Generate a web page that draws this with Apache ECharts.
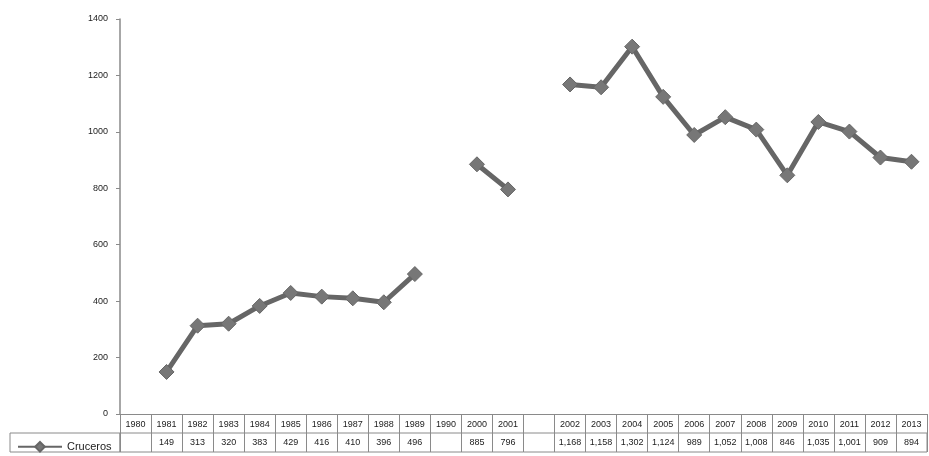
<!DOCTYPE html>
<html>
<head>
<meta charset="utf-8">
<script src="https://cdn.jsdelivr.net/npm/echarts@6/dist/echarts.min.js"></script>
<style>
  html, body { margin: 0; padding: 0; background: #fff; }
  #chart { width: 929px; height: 456px; }
</style>
</head>
<body>
<div id="chart"></div>
<script>
// Years shown along the axis (one empty column separates 2001 and 2002)
var years = ['1980', '1981', '1982', '1983', '1984', '1985', '1986', '1987', '1988', '1989', '1990',
             '2000', '2001', '', '2002', '2003', '2004', '2005', '2006', '2007', '2008', '2009',
             '2010', '2011', '2012', '2013'];
// Number of cruise calls per year (null = no data)
var cruceros = [null, 149, 313, 320, 383, 429, 416, 410, 396, 496, null,
                885, 796, null, 1168, 1158, 1302, 1124, 989, 1052, 1008, 846,
                1035, 1001, 909, 894];
var seriesName = 'Cruceros';
var yTicks = { min: 0, max: 1400, step: 200 };

var font = '"Liberation Sans Narrow", "Liberation Sans", Arial, sans-serif';
var gridLine = '#8a8a8a';

function fmt(v) {
  if (v === null || v === undefined) return '';
  return String(v).replace(/\B(?=(\d{3})+(?!\d))/g, ',');
}

var chart = echarts.init(document.getElementById('chart'));
chart.setOption({
  animation: false,
  backgroundColor: '#fff',
  legend: {
    data: [seriesName],
    left: 12,
    top: 436,
    itemWidth: 44,
    itemHeight: 12,
    itemGap: 4,
    textStyle: { fontFamily: font, fontSize: 11, color: '#222' }
  },
  grid: [
    { left: 120, right: 2, top: 19, bottom: 42 },
    { left: 120, right: 2, top: 433, height: 19, show: true, borderColor: gridLine, borderWidth: 1 },
    { left: 10, width: 110, top: 433, height: 19, show: true, borderColor: gridLine, borderWidth: 1 }
  ],
  xAxis: [
    {
      gridIndex: 0,
      type: 'category',
      data: years,
      boundaryGap: true,
      axisLine: { lineStyle: { color: gridLine, width: 1 } },
      axisTick: { show: true, interval: 0, length: 19, lineStyle: { color: gridLine } },
      axisLabel: { interval: 0, margin: 6, fontFamily: font, fontSize: 9, color: '#222' }
    },
    {
      gridIndex: 1,
      type: 'category',
      data: years,
      boundaryGap: true,
      axisLine: { show: false },
      axisTick: { show: false },
      splitLine: { show: true, interval: 0, lineStyle: { color: gridLine, width: 1 } },
      axisLabel: {
        interval: 0, inside: true, margin: 5,
        fontFamily: font, fontSize: 9, color: '#222',
        formatter: function (v, i) { return fmt(cruceros[i]); }
      }
    },
    { gridIndex: 2, type: 'value', show: false }
  ],
  yAxis: [
    {
      gridIndex: 0,
      type: 'value',
      min: yTicks.min,
      max: yTicks.max,
      interval: yTicks.step,
      axisLine: { show: true, lineStyle: { color: gridLine, width: 1.5 } },
      axisTick: { show: true, length: 4, lineStyle: { color: gridLine } },
      splitLine: { show: false },
      axisLabel: {
        margin: 12, fontFamily: font, fontSize: 9, color: '#222',
        formatter: function (v) { return String(v); }
      }
    },
    { gridIndex: 1, type: 'value', show: false },
    { gridIndex: 2, type: 'value', show: false }
  ],
  series: [
    {
      name: seriesName,
      type: 'line',
      xAxisIndex: 0,
      yAxisIndex: 0,
      data: cruceros,
      connectNulls: false,
      symbol: 'diamond',
      symbolSize: 15,
      lineStyle: { color: '#666666', width: 5 },
      itemStyle: { color: '#777777', borderColor: '#666666', borderWidth: 1 }
    }
  ]
});
</script>
</body>
</html>
